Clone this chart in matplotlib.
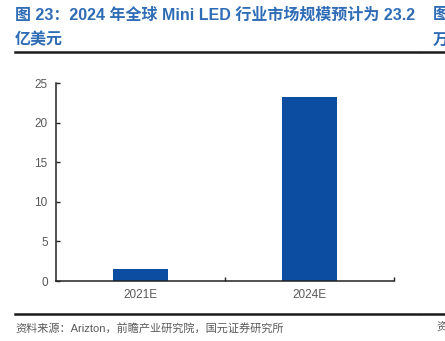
import matplotlib
matplotlib.use("Agg")
import matplotlib.pyplot as plt
import numpy as np

# market size, 100 million USD
categories = ["2021E", "2024E"]
values = [1.5, 23.2]
yticks = [0, 5, 10, 15, 20, 25]

title_line1 = "图 23：2024 年全球 Mini LED 行业市场规模预计为 23.2"
title_line2 = "亿美元"
source_text = "资料来源：Arizton，前瞻产业研究院，国元证券研究所"

FONTS = ["Liberation Sans", "Noto Sans CJK SC", "DejaVu Sans"]
plt.rcParams["font.family"] = FONTS

blue_title = "#2E6CB5"
bar_color = "#0C4DA2"
grey = "#595959"

W, H = 445, 341
fig = plt.figure(figsize=(W / 100, H / 100), dpi=100)

def fx(px):
    return px / W

def fy(py):
    return 1 - py / H

# title and header rule
fig.text(fx(15), fy(15), title_line1, fontsize=11.5, fontweight="bold",
         color=blue_title, va="center", ha="left")
fig.text(fx(15), fy(40), title_line2, fontsize=11.5, fontweight="bold",
         color=blue_title, va="center", ha="left")
# neighbouring column, clipped by the page edge
fig.text(fx(433), fy(15), "图", fontsize=11.5, fontweight="bold",
         color=blue_title, va="center", ha="left")
fig.text(fx(433), fy(40), "万", fontsize=11.5, fontweight="bold",
         color=blue_title, va="center", ha="left")

for y in (52, 314):
    fig.lines.append(plt.Line2D([fx(15), fx(418)], [fy(y), fy(y)],
                                transform=fig.transFigure, color="#1a1a1a", lw=1.8))
    fig.lines.append(plt.Line2D([fx(420), fx(445)], [fy(y), fy(y)],
                                transform=fig.transFigure, color="#1a1a1a", lw=1.8))

fig.text(fx(15), fy(328), source_text, fontsize=8, color=grey,
         va="center", ha="left")
fig.text(fx(436), fy(328), "资", fontsize=8, color=grey,
         va="center", ha="left")

# chart area
ax = fig.add_axes([fx(56), fy(281), fx(394) - fx(56), fy(83) - fy(281)])
x = np.arange(len(categories))
ax.bar(x, values, width=0.32, color=bar_color)

ax.set_xlim(-0.5, len(categories) - 0.5)
ax.set_ylim(0, 25)
ax.set_yticks(yticks)
ax.set_xticks(x)
ax.set_xticklabels(categories)
ax.set_xticks(np.arange(len(categories)) + 0.5, minor=True)

for side in ("top", "right"):
    ax.spines[side].set_visible(False)
for side in ("left", "bottom"):
    ax.spines[side].set_color("#222222")
    ax.spines[side].set_linewidth(1.1)

ax.tick_params(axis="y", direction="in", length=3, width=1, colors="#222222",
               labelcolor=grey, labelsize=8.5, pad=6)
ax.tick_params(axis="x", which="major", length=0, labelcolor=grey,
               labelsize=8.5, pad=6)
ax.tick_params(axis="x", which="minor", direction="in", length=3, width=1,
               colors="#222222")

fig.savefig("out.png", dpi=100)
